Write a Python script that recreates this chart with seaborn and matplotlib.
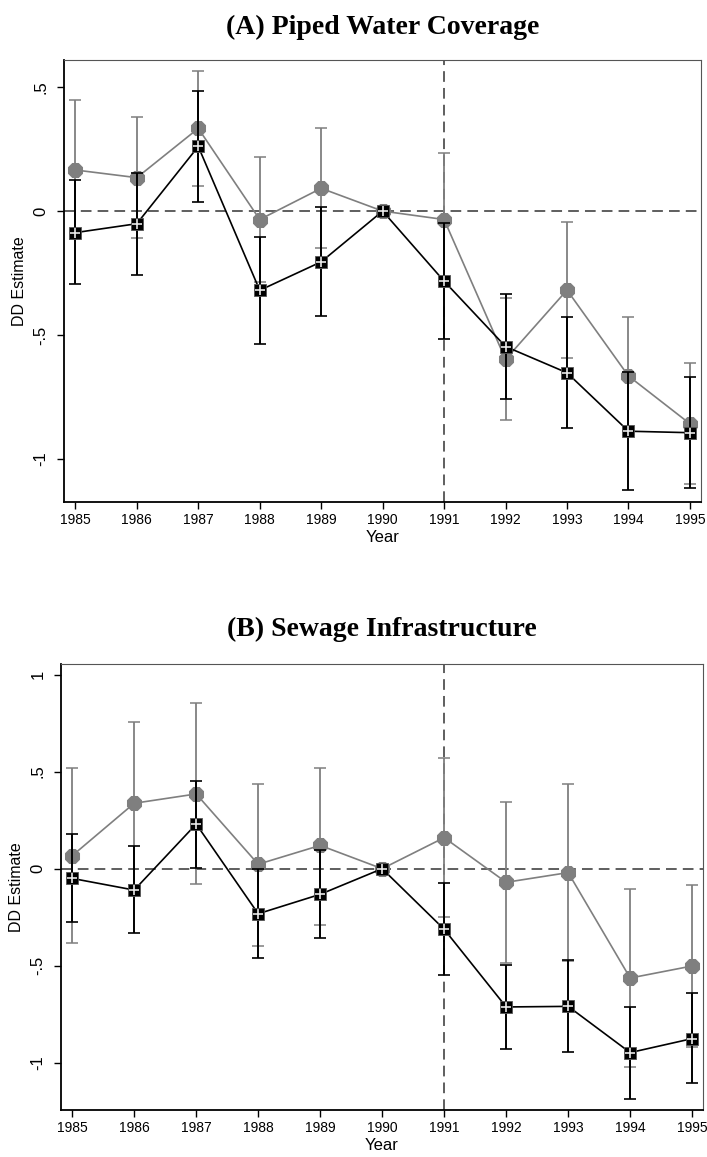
import numpy as np
import pandas as pd
import matplotlib
matplotlib.use("Agg")
import matplotlib.pyplot as plt
import seaborn as sns

# Event-study difference-in-differences estimates with 95% confidence intervals
years = [1985, 1986, 1987, 1988, 1989, 1990, 1991, 1992, 1993, 1994, 1995]

# Panel A: piped water coverage
water_main = [-0.087, -0.051, 0.261, -0.320, -0.205, 0.0, -0.283, -0.547, -0.653, -0.889, -0.895]
water_main_lo = [-0.295, -0.257, 0.038, -0.536, -0.423, 0.0, -0.517, -0.758, -0.876, -1.128, -1.117]
water_main_hi = [0.124, 0.155, 0.486, -0.106, 0.017, 0.0, -0.049, -0.333, -0.429, -0.649, -0.670]

water_alt = [0.166, 0.135, 0.334, -0.034, 0.092, 0.0, -0.034, -0.599, -0.319, -0.666, -0.859]
water_alt_lo = [-0.114, -0.110, 0.102, -0.287, -0.151, 0.0, -0.300, -0.844, -0.594, -0.905, -1.104]
water_alt_hi = [0.450, 0.378, 0.567, 0.219, 0.336, 0.0, 0.233, -0.349, -0.046, -0.427, -0.614]

# Panel B: sewage infrastructure
sewage_main = [-0.050, -0.110, 0.230, -0.232, -0.132, 0.0, -0.312, -0.712, -0.709, -0.947, -0.875]
sewage_main_lo = [-0.276, -0.333, 0.004, -0.461, -0.358, 0.0, -0.547, -0.928, -0.944, -1.184, -1.105]
sewage_main_hi = [0.179, 0.115, 0.453, -0.003, 0.096, 0.0, -0.072, -0.496, -0.472, -0.711, -0.640]

sewage_alt = [0.067, 0.337, 0.385, 0.023, 0.120, 0.0, 0.160, -0.070, -0.020, -0.563, -0.501]
sewage_alt_lo = [-0.381, -0.083, -0.080, -0.400, -0.288, 0.0, -0.250, -0.484, -0.475, -1.020, -0.917]
sewage_alt_hi = [0.520, 0.757, 0.855, 0.435, 0.520, 0.0, 0.568, 0.342, 0.435, -0.105, -0.082]

panel_titles = ["(A) Piped Water Coverage", "(B) Sewage Infrastructure"]
water_yticks = [-1, -0.5, 0, 0.5]
water_yticklabels = ["-1", "-.5", "0", ".5"]
sewage_yticks = [-1, -0.5, 0, 0.5, 1]
sewage_yticklabels = ["-1", "-.5", "0", ".5", "1"]
event_year = 1991

sns.set_style("ticks")
plt.rcParams["font.family"] = ["Liberation Sans", "DejaVu Sans"]
plt.rcParams["text.color"] = "black"
plt.rcParams["axes.labelcolor"] = "black"
plt.rcParams["xtick.color"] = "black"
plt.rcParams["ytick.color"] = "black"

BLACK = "#000000"
GREY = "#7f7f7f"
REF = "#333333"

fig = plt.figure(figsize=(7.07, 11.57), dpi=100)
ax_a = fig.add_axes([0.0905, 0.5661, 0.9010, 0.3820])
ax_b = fig.add_axes([0.0859, 0.0409, 0.9089, 0.3855])


def draw_panel(ax, main, main_lo, main_hi, alt, alt_lo, alt_hi,
               ylim, yticks, yticklabels, title, title_pad):
    ax.axhline(0, color=REF, lw=1.1, dashes=(7, 4), zorder=1)
    ax.axvline(event_year, color=REF, lw=1.1, dashes=(7, 4), zorder=1)

    df = pd.DataFrame({
        "year": years * 2,
        "est": alt + main,
        "series": ["alt"] * len(years) + ["main"] * len(years),
    })

    # Grey series (drawn underneath)
    alt_arr = np.array(alt)
    ax.errorbar(years, alt_arr,
                yerr=[alt_arr - np.array(alt_lo), np.array(alt_hi) - alt_arr],
                fmt="none", ecolor=GREY, elinewidth=1.3, capsize=4, capthick=1.1,
                zorder=2)
    sns.lineplot(data=df[df.series == "alt"], x="year", y="est", ax=ax,
                 color=GREY, lw=1.2, marker="8", markersize=11,
                 markeredgecolor=GREY, markerfacecolor=GREY, zorder=3,
                 legend=False)

    # Black series with light cross inside square markers
    main_arr = np.array(main)
    ax.errorbar(years, main_arr,
                yerr=[main_arr - np.array(main_lo), np.array(main_hi) - main_arr],
                fmt="none", ecolor=BLACK, elinewidth=1.4, capsize=4, capthick=1.2,
                zorder=4)
    sns.lineplot(data=df[df.series == "main"], x="year", y="est", ax=ax,
                 color=BLACK, lw=1.2, marker="s", markersize=8,
                 markeredgecolor="#555555", markeredgewidth=0.6,
                 markerfacecolor=BLACK, zorder=5, legend=False)
    ax.plot(years, main, linestyle="none", marker="+", markersize=7,
            markeredgewidth=1.2, color="#e8e8e8", zorder=6)

    ax.set_xlim(1984.815, 1995.18)
    ax.set_ylim(*ylim)
    ax.set_xticks(years)
    ax.set_xticklabels([str(y) for y in years], fontsize=10)
    ax.set_yticks(yticks)
    ax.set_yticklabels(yticklabels, fontsize=12, rotation=90, va="center")
    ax.tick_params(axis="both", direction="out", length=5, width=1.0,
                   color=BLACK, labelcolor=BLACK, pad=3)
    ax.tick_params(axis="y", pad=6)
    ax.set_xlabel("Year", fontsize=12, labelpad=2, color=BLACK)
    ax.set_ylabel("DD Estimate", fontsize=11.5, labelpad=5, color=BLACK)

    for side in ("left", "bottom"):
        ax.spines[side].set_color(BLACK)
        ax.spines[side].set_linewidth(1.3)
    for side in ("top", "right"):
        ax.spines[side].set_visible(True)
        ax.spines[side].set_color("#555555")
        ax.spines[side].set_linewidth(0.8)

    ax.set_title(title, fontsize=20, fontweight="bold", color=BLACK,
                 family=["Liberation Serif", "DejaVu Serif"], pad=title_pad)


draw_panel(ax_a, water_main, water_main_lo, water_main_hi,
           water_alt, water_alt_lo, water_alt_hi,
           (-1.175, 0.61), water_yticks, water_yticklabels, panel_titles[0], 19)
draw_panel(ax_b, sewage_main, sewage_main_lo, sewage_main_hi,
           sewage_alt, sewage_alt_lo, sewage_alt_hi,
           (-1.241, 1.056), sewage_yticks, sewage_yticklabels, panel_titles[1], 20)

fig.savefig("out.png", dpi=100, facecolor="white")
